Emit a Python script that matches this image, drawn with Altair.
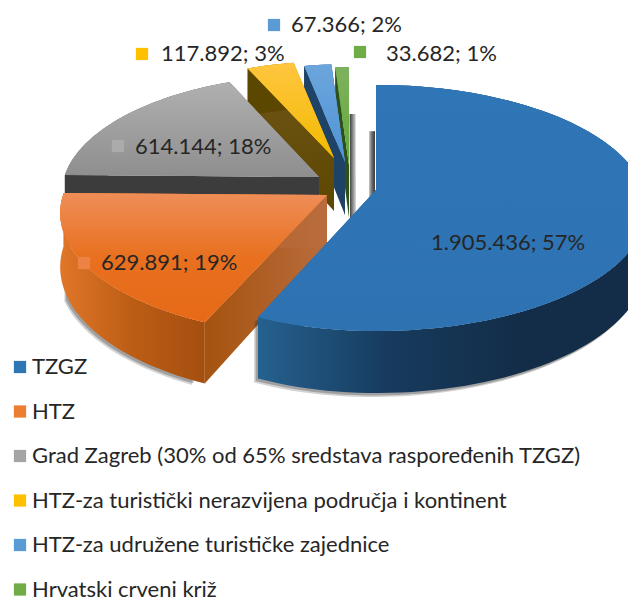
import math
import altair as alt

# ---------- data ----------
categories = ["TZGZ", "HTZ", "Grad Zagreb (30% od 65% sredstava raspoređenih TZGZ)",
              "HTZ-za turistički nerazvijena područja i kontinent",
              "HTZ-za udružene turističke zajednice", "Hrvatski crveni križ"]
values = [1905436, 629891, 614144, 117892, 67366, 33682]
value_labels = ["1.905.436; 57%", "629.891; 19%", "614.144; 18%", "117.892; 3%", "67.366; 2%", "33.682; 1%"]
colors = ["#2E75B6", "#ED7D31", "#A5A5A5", "#FFC000", "#5B9BD5", "#70AD47"]

# ---------- layout / style ----------
M = 8
MY = 8
A, B, K, DEPTH = 268, 120.4, 0.146, 53
apex = [(376, 190), (327, 195), (319, 177), (334, 158), (345, 162), (349, 165)]
rad = [1.0, 1.0, 0.97, 0.91, 0.92, 0.92]
left_squeeze = [0.95, 0.985, 0.98, 1.0, 1.0, 1.0]
shadow = [(-4, 4), (-3, 4), (0, 0), (0, 0), (0, 0), (0, 0)]
shadow_from = [30, 205, 0, 0, 0, 0]
shadow_to = [360, 250, 0, 0, 0, 0]
swatch_tint = ["#2E75B6", "#EE8144", "#ABABAB", "#FFC000", "#5B9BD5", "#70AD47"]
label_pos = [(431, 243), (101, 263), (135, 147), (161, 54), (291, 25), (386, 54)]
swatch_pos = [(424, 243), (84, 263), (118, 146), (142, 54), (274, 25), (360, 52)]


def vgrad(*c):
    return {"gradient": "linear", "x1": 0, "x2": 0, "y1": 0, "y2": 1,
            "stops": [{"offset": i / (len(c) - 1), "color": x} for i, x in enumerate(c)]}


def hgrad(*c):
    return {"gradient": "linear", "x1": 0, "x2": 1, "y1": 0, "y2": 0,
            "stops": [{"offset": i / (len(c) - 1), "color": x} for i, x in enumerate(c)]}


top_fill = [vgrad("#2F76B7", "#2E72B2"), vgrad("#EF8E58", "#E8701F", "#E66A18"),
            vgrad("#B0B0B0", "#8E8E8E"), vgrad("#FFC640", "#F2BA00"),
            vgrad("#6CA5DC", "#4F94D6"), vgrad("#7DB25E", "#62A83C")]
edge_fill = ["#1E4E7A", hgrad("#A5530F", "#B96C3D"), "#3C3C3C",
             vgrad("#705518", "#5C4700"), "#1F4366", "#2E5019"]
wall_fill = [hgrad("#25618F", "#173B5E", "#132D48", "#132D48"),
             hgrad("#E07628", "#BC5D15", "#A44F10"),
             "#3C3C3C", "#5C4700", "#1F4366", "#2E5019"]


def project(i, deg, bottom=False, centre=False):
    ax, ay = apex[i]
    if centre:
        return [ax - M, ay - MY + (DEPTH if bottom else 0)]
    t = math.radians(deg)
    X, Y = math.sin(t) * rad[i], math.cos(t) * rad[i]
    if X < 0:
        X *= left_squeeze[i]
    w = 1 + K * Y
    return [ax - M + A * X / w, ay - MY - B * Y / w + (DEPTH / w if bottom else 0)]


def feature(pts, dx=0, dy=0):
    ring = [[p[0] + dx, p[1] + dy] for p in pts]
    ring.append(ring[0])
    return {"type": "Feature", "geometry": {"type": "Polygon", "coordinates": [ring]}, "properties": {}}


PROJ = dict(type="identity", scale=1, translate=[0, 0])


def shape(pts, fill, dx=0, dy=0, **kw):
    return (alt.Chart(alt.Data(values=[feature(pts, dx, dy)]))
            .mark_geoshape(fill=fill, strokeWidth=0, **kw).project(**PROJ))


def strip(i, deg, d0, d1, fill):
    """Soft cast shadow beside a slice's radial edge, from its lower rim corner to its lower apex."""
    a, b = project(i, deg, True), project(i, 0, True, centre=True)
    return shape([[a[0] + d1, a[1]], [b[0] + d1, b[1]], [b[0] + d0, b[1]], [a[0] + d0, a[1]]], fill)


total = sum(values)
spans, acc = [], 0.0
for v in values:
    spans.append((acc, acc + 360 * v / total))
    acc += 360 * v / total

layers = []
for i in [5, 4, 3, 2, 1, 0]:
    s, e = spans[i]
    n = max(3, int((e - s) / 2))
    angs = [s + (e - s) * j / n for j in range(n + 1)]
    top = [project(i, 0, centre=True)] + [project(i, a) for a in angs]
    sx, sy = shadow[i]
    outer = [project(i, a) for a in angs] + [project(i, a, True) for a in reversed(angs)]
    if sx or sy:
        sh = [a for a in angs if shadow_from[i] <= a <= shadow_to[i]]
        sh_poly = [project(i, a) for a in sh] + [project(i, a, True) for a in reversed(sh)]
        for f, o in ((1.0, 0.22), (0.6, 0.3)):
            layers.append(shape(sh_poly, "#303030", dx=sx * f, dy=sy * f, opacity=o))
    if i == 5:
        layers.append(strip(i, 359.9, 1, 7, hgrad("#3A3A3A", "#8A8A8A", "#D8D8D8")))
    if i == 0:
        layers.append(strip(i, 0, -7, -1, hgrad("#C8C8C8", "#6A6A6A", "#3A3A3A")))
    # radial edge walls
    for a in (s, e):
        layers.append(shape([project(i, 0, centre=True), project(i, a), project(i, a, True),
                             project(i, 0, True, centre=True)], edge_fill[i]))
    # outer wall
    layers.append(shape(outer, wall_fill[i]))
    # flat top, carries the legend
    layers.append(
        alt.Chart(alt.Data(values=[{**feature(top), "properties": {"series": categories[i]}}]))
        .mark_geoshape(strokeWidth=0)
        .encode(color=alt.Color("properties.series:N",
                                scale=alt.Scale(domain=categories, range=colors),
                                legend=alt.Legend(title=None, orient="none", legendX=1, legendY=348,
                                                  symbolType="square", symbolSize=150, symbolStrokeWidth=0,
                                                  labelFont="Lato", labelFontSize=22, labelColor="#262626",
                                                  labelLimit=620, rowPadding=22.5, labelOffset=1, columns=1)))
        .project(**PROJ))
    layers.append(shape(top, top_fill[i]))

label_rows = [{"x": p[0] - M, "y": p[1] - MY, "t": t} for p, t in zip(label_pos, value_labels)]
swatch_rows = [{"x": p[0] - M, "y": p[1] - MY, "c": c} for p, c in zip(swatch_pos, swatch_tint)]
layers.append(alt.Chart(alt.Data(values=swatch_rows)).mark_square(size=150, opacity=1, strokeWidth=0)
              .encode(longitude="x:Q", latitude="y:Q", fill=alt.Fill("c:N", scale=None, legend=None)).project(**PROJ))
layers.append(alt.Chart(alt.Data(values=label_rows))
              .mark_text(align="left", baseline="middle", font="Lato", fontSize=22, color="#262626")
              .encode(longitude="x:Q", latitude="y:Q", text="t:N").project(**PROJ))

chart = (alt.layer(*layers)
         .properties(width=620, height=593, padding=0, autosize=alt.AutoSizeParams(type="none"),
                     background="white")
         .configure_view(stroke=None))
chart.save("out.html", embed_options={"renderer": "svg", "actions": False})
